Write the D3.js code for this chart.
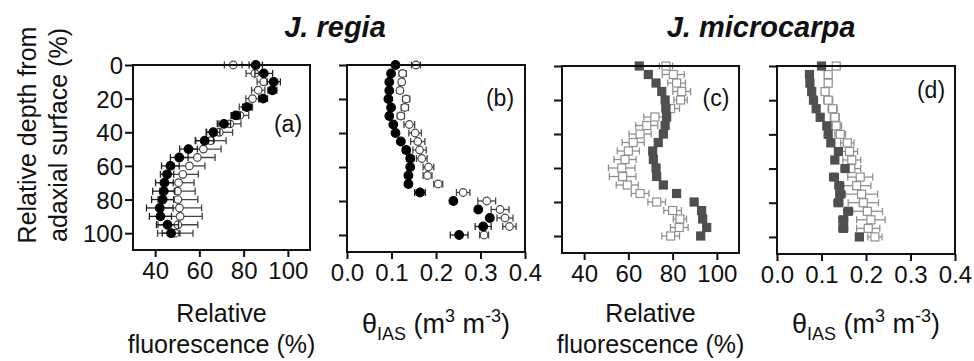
<!DOCTYPE html>
<html>
<head>
<meta charset="utf-8">
<script src="https://cdn.jsdelivr.net/npm/d3@7"></script>
<style>
  body { margin: 0; background: #fff; }
  svg { display: block; font-family: "Liberation Sans", Arial, sans-serif; }
</style>
</head>
<body>
<svg id="chart" width="974" height="361"></svg>
<script>
// relative depth from adaxial surface (%)
const depth = [0, 5, 10, 15, 20, 25, 30, 35, 40, 45, 50, 55, 60, 65, 70, 75, 80, 85, 90, 95, 100];
const depthTicks = [0, 20, 40, 60, 80, 100];

// J. regia, relative fluorescence (%)
const regiaFluoFilled = [85.5, 89.1, 93.6, 93.0, 88.8, 81.6, 76.5, 71.1, 66.3, 62.4, 55.1, 50.9, 46.9, 45.4, 44.2, 43.9, 43.4, 42.1, 42.4, 45.6, 47.2];
const regiaFluoFilledErr = [3, 4, 3, 2, 2, 2, 2, 3, 3, 4, 4, 4, 4, 3, 4, 5, 5, 6, 5, 5, 4];
const regiaFluoOpen = [75.3, 85.1, 89.1, 86.6, 84.0, 81.0, 78.3, 73.8, 69.0, 65.1, 61.8, 59.1, 55.5, 52.5, 50.6, 50.1, 50.3, 51.0, 51.3, 50.3, 49.1];
const regiaFluoOpenErr = [4, 4, 3, 3, 3, 3, 4, 5, 6, 7, 8, 8, 7, 7, 7, 8, 9, 10, 10, 9, 8];

// J. regia, theta IAS
const regiaThetaFilled = [0.109, 0.099, 0.095, 0.095, 0.093, 0.099, 0.095, 0.104, 0.109, 0.121, 0.133, 0.142, 0.142, 0.138, 0.138, 0.164, 0.239, 0.295, 0.321, 0.306, 0.252];
const regiaThetaFilledErr = [0.005, 0.005, 0.004, 0.004, 0.004, 0.004, 0.004, 0.005, 0.005, 0.006, 0.008, 0.008, 0.006, 0.006, 0.006, 0.012, 0.005, 0.006, 0.006, 0.018, 0.02];
const regiaThetaOpen = [0.155, 0.125, 0.123, 0.119, 0.133, 0.130, 0.121, 0.140, 0.153, 0.159, 0.163, 0.168, 0.183, 0.181, 0.205, 0.261, 0.314, 0.344, 0.355, 0.365, 0.308];
const regiaThetaOpenErr = [0.01, 0.008, 0.006, 0.006, 0.008, 0.008, 0.008, 0.012, 0.014, 0.016, 0.015, 0.012, 0.012, 0.01, 0.01, 0.015, 0.02, 0.02, 0.018, 0.015, 0.01];

// J. microcarpa, relative fluorescence (%)
const microFluoFilled = [64.9, 69.0, 72.5, 75.1, 76.6, 77.0, 77.3, 76.6, 75.8, 73.5, 71.0, 71.3, 72.5, 72.8, 75.8, 81.8, 89.7, 93.1, 93.6, 95.4, 92.7];
const microFluoFilledErr = [1, 1, 1, 1, 1, 1, 1, 1, 1, 1, 1, 1, 1, 1, 1, 1, 1, 1, 1, 1, 1];
const microFluoOpen = [77.0, 80.3, 81.8, 84.1, 83.6, 79.1, 72.0, 68.3, 65.3, 62.2, 60.0, 58.5, 57.0, 57.4, 59.5, 65.3, 72.8, 80.0, 83.3, 83.0, 79.1];
const microFluoOpenErr = [3, 5, 4, 4, 3, 4, 5, 5, 5, 5, 5, 5, 6, 6, 5, 4, 4, 4, 3, 4, 4];

// J. microcarpa, theta IAS
const microThetaFilled = [0.100, 0.073, 0.074, 0.078, 0.082, 0.088, 0.097, 0.112, 0.115, 0.121, 0.138, 0.130, 0.153, 0.128, 0.140, 0.142, 0.138, 0.160, 0.149, 0.149, 0.185];
const microThetaFilledErr = [0.005, 0.004, 0.004, 0.004, 0.004, 0.004, 0.005, 0.006, 0.006, 0.006, 0.006, 0.006, 0.006, 0.01, 0.01, 0.01, 0.01, 0.01, 0.01, 0.01, 0.008];
const microThetaOpen = [0.133, 0.115, 0.115, 0.108, 0.115, 0.125, 0.130, 0.133, 0.142, 0.158, 0.163, 0.168, 0.166, 0.187, 0.179, 0.190, 0.194, 0.203, 0.211, 0.205, 0.220];
const microThetaOpenErr = [0.008, 0.008, 0.008, 0.008, 0.01, 0.01, 0.01, 0.012, 0.012, 0.015, 0.018, 0.02, 0.022, 0.028, 0.032, 0.036, 0.034, 0.034, 0.032, 0.026, 0.016];

const fluoTicks = [40, 60, 80, 100];
const thetaTicks = [0.0, 0.1, 0.2, 0.3, 0.4];

const svg = d3.select("#chart");

const panels = [
  { id: "(a)", x0: 133, x1: 310, y0: 65, y1: 250, xdom: [30, 110], xticks: fluoTicks, fmt: d3.format("d"),
    filled: regiaFluoFilled, filledErr: regiaFluoFilledErr, open: regiaFluoOpen, openErr: regiaFluoOpenErr,
    shape: "circle", tagX: 288, tagY: 124, xlab: "fluo", ylabels: true },
  { id: "(b)", x0: 347, x1: 525, y0: 65, y1: 252, xdom: [0, 0.4], xticks: thetaTicks, fmt: d3.format(".1f"),
    filled: regiaThetaFilled, filledErr: regiaThetaFilledErr, open: regiaThetaOpen, openErr: regiaThetaOpenErr,
    shape: "circle", tagX: 500, tagY: 98, xlab: "theta" },
  { id: "(c)", x0: 562, x1: 739, y0: 66, y1: 253, xdom: [30, 110], xticks: fluoTicks, fmt: d3.format("d"),
    filled: microFluoFilled, filledErr: microFluoFilledErr, open: microFluoOpen, openErr: microFluoOpenErr,
    shape: "square", tagX: 716, tagY: 98, xlab: "fluo" },
  { id: "(d)", x0: 777, x1: 955, y0: 66, y1: 254, xdom: [0, 0.4], xticks: thetaTicks, fmt: d3.format(".1f"),
    filled: microThetaFilled, filledErr: microThetaFilledErr, open: microThetaOpen, openErr: microThetaOpenErr,
    shape: "square", tagX: 931, tagY: 90, xlab: "theta" }
];

panels.forEach(p => drawPanel(p));

function drawPanel(p) {
  const x = d3.scaleLinear().domain(p.xdom).range([p.x0, p.x1]);
  const y = d3.scaleLinear().domain([0, 110]).range([p.y0, p.y1]);
  const g = svg.append("g");

  const isSq = p.shape === "square";
  const openCol = isSq ? "#8f8f8f" : "#444";
  const fillCol = isSq ? "#4f4f4f" : "#000";

  // error bars + markers, open series first
  [[p.open, p.openErr, true], [p.filled, p.filledErr, false]].forEach(([vals, errs, open]) => {
    const col = open ? openCol : (isSq ? "#4f4f4f" : "#222");
    const eb = g.append("g").attr("stroke", col).attr("stroke-width", 1.3).attr("fill", "none");
    depth.forEach((d, i) => {
      const xa = x(vals[i] - errs[i]), xb = x(vals[i] + errs[i]), yy = y(d);
      eb.append("line").attr("x1", xa).attr("x2", xb).attr("y1", yy).attr("y2", yy);
      eb.append("line").attr("x1", xa).attr("x2", xa).attr("y1", yy - 3.5).attr("y2", yy + 3.5);
      eb.append("line").attr("x1", xb).attr("x2", xb).attr("y1", yy - 3.5).attr("y2", yy + 3.5);
    });
    const mk = g.append("g");
    if (isSq) {
      mk.selectAll("rect").data(depth).join("rect")
        .attr("x", (d, i) => x(vals[i]) - 4).attr("y", d => y(d) - 4)
        .attr("width", 8).attr("height", 8)
        .attr("fill", open ? "#fff" : fillCol)
        .attr("stroke", open ? openCol : fillCol).attr("stroke-width", 1.2);
    } else {
      mk.selectAll("circle").data(depth).join("circle")
        .attr("cx", (d, i) => x(vals[i])).attr("cy", d => y(d))
        .attr("r", open ? 3.8 : 4.3)
        .attr("fill", open ? "#fff" : fillCol)
        .attr("stroke", open ? openCol : fillCol).attr("stroke-width", 1.2);
    }
  });

  // frame
  g.append("rect").attr("x", p.x0).attr("y", p.y0)
    .attr("width", p.x1 - p.x0).attr("height", p.y1 - p.y0)
    .attr("fill", "none").attr("stroke", "#111").attr("stroke-width", 2);

  // axes
  const xAxis = g.append("g").attr("transform", `translate(0,${p.y1})`)
    .call(d3.axisBottom(x).tickValues(p.xticks).tickFormat(p.fmt).tickSize(7).tickSizeOuter(0).tickPadding(4));
  const yAxis = g.append("g").attr("transform", `translate(${p.x0},0)`)
    .call(d3.axisLeft(y).tickValues(depthTicks).tickSize(8).tickSizeOuter(0).tickPadding(2)
      .tickFormat(p.ylabels ? d3.format("d") : ""));
  [xAxis, yAxis].forEach(a => {
    a.select(".domain").remove();
    a.selectAll(".tick line").attr("stroke", "#111").attr("stroke-width", 2);
    a.selectAll(".tick text").attr("fill", "#111").style("font-size", "24px");
  });
  xAxis.selectAll(".tick text").attr("dy", "0.74em");
  yAxis.selectAll(".tick text").attr("dy", "0.36em");

  // panel tag
  g.append("text").attr("x", p.tagX).attr("y", p.tagY).attr("text-anchor", "middle")
    .attr("dominant-baseline", "central").style("font-size", "23px").attr("fill", "#111").text(p.id);

  // x axis title
  const cx = (p.x0 + p.x1) / 2;
  if (p.xlab === "fluo") {
    g.append("text").attr("x", cx).attr("y", 322).attr("text-anchor", "middle")
      .style("font-size", "25px").attr("fill", "#111").text("Relative");
    g.append("text").attr("x", cx).attr("y", 353).attr("text-anchor", "middle")
      .style("font-size", "25px").attr("fill", "#111").text("fluorescence (%)");
  } else {
    const t = g.append("text").attr("x", cx).attr("y", 333).attr("text-anchor", "middle")
      .style("font-size", "27px").attr("fill", "#111");
    t.append("tspan").text("θ");
    t.append("tspan").attr("dy", 7).style("font-size", "18px").text("IAS");
    t.append("tspan").attr("dy", -7).text(" (m");
    t.append("tspan").attr("dy", -11).style("font-size", "18px").text("3");
    t.append("tspan").attr("dy", 11).text(" m");
    t.append("tspan").attr("dy", -11).style("font-size", "18px").text("-3");
    t.append("tspan").attr("dy", 11).text(")");
  }
}

// y axis title
const yt = svg.append("text").attr("transform", "translate(0,135) rotate(-90)")
  .attr("text-anchor", "middle").style("font-size", "25px").attr("fill", "#111");
yt.append("tspan").attr("x", 0).attr("y", 36).text("Relative depth from");
yt.append("tspan").attr("x", 0).attr("y", 67).text("adaxial surface (%)");

// species titles
svg.append("text").attr("x", 335).attr("y", 37).attr("text-anchor", "middle")
  .style("font-size", "29px").style("font-weight", "bold").style("font-style", "italic")
  .attr("fill", "#111").text("J. regia");
svg.append("text").attr("x", 761).attr("y", 37).attr("text-anchor", "middle")
  .style("font-size", "29px").style("font-weight", "bold").style("font-style", "italic")
  .attr("fill", "#111").text("J. microcarpa");
</script>
</body>
</html>
